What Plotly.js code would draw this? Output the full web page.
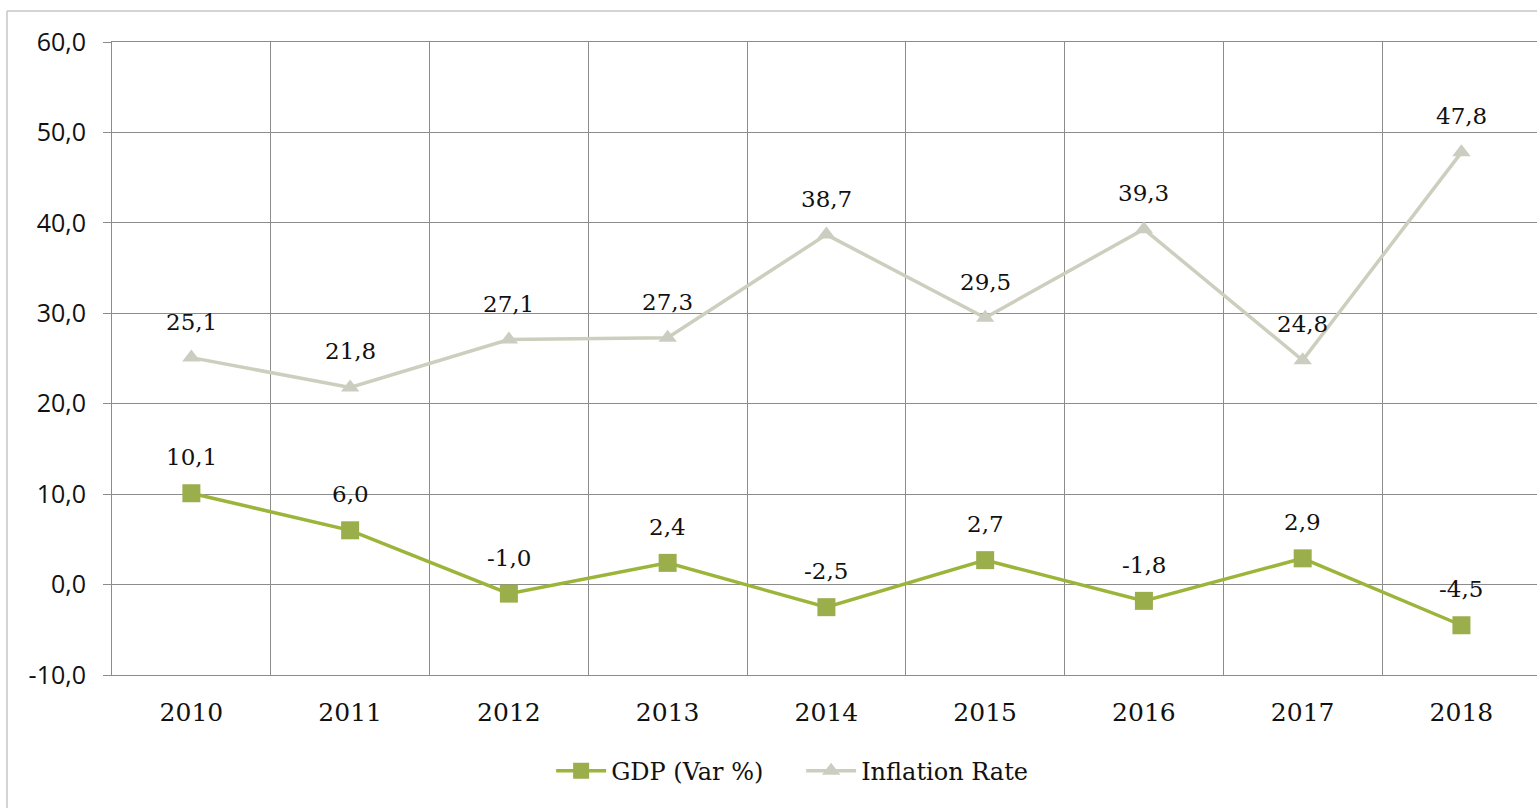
<!DOCTYPE html>
<html>
<head>
<meta charset="utf-8">
<script src="https://cdn.plot.ly/plotly-3.0.1.min.js"></script>
<style>html,body{margin:0;padding:0;background:#fff;}#chart{width:1537px;height:808px;}</style>
</head>
<body>
<div id="chart"></div>
<script>
var years = ['2010','2011','2012','2013','2014','2015','2016','2017','2018'];
var gdp = [10.1, 6.0, -1.0, 2.4, -2.5, 2.7, -1.8, 2.9, -4.5];
var inflation = [25.1, 21.8, 27.1, 27.3, 38.7, 29.5, 39.3, 24.8, 47.8];
var yTicks = [-10, 0, 10, 20, 30, 40, 50, 60];
var yTickText = ['-10,0', '0,0', '10,0', '20,0', '30,0', '40,0', '50,0', '60,0'];

var idx = years.map(function(_, i){ return i; });
var fmt = function(v){ return v.toFixed(1).replace('.', ','); };
var serif = 'DejaVu Serif, serif';
var gridCol = '#8c8c8c';

var traces = [
  {
    x: idx, y: gdp, name: 'GDP (Var %)', type: 'scatter', mode: 'lines+markers',
    line: {color: '#9bb53a', width: 3.5},
    marker: {symbol: 'square', size: 18, color: '#9aae4c'}
  },
  {
    x: idx, y: inflation, name: 'Inflation Rate', type: 'scatter', mode: 'lines+markers',
    line: {color: '#cccfbd', width: 3.5},
    marker: {symbol: 'triangle-up', size: 16, color: '#cbcdc0'}
  }
];

var annotations = [];
[gdp, inflation].forEach(function(series){
  series.forEach(function(v, i){
    annotations.push({
      x: i, y: v, xref: 'x', yref: 'y', text: fmt(v), showarrow: false,
      yshift: 36, font: {family: serif, size: 23, color: '#111'}
    });
  });
});

var minorVals = [];
for (var k = 0; k <= years.length; k++) minorVals.push(k - 0.5);

var layout = {
  width: 1537, height: 808,
  margin: {l: 112, r: 0, t: 42, b: 133},
  paper_bgcolor: '#fff', plot_bgcolor: '#fff',
  separators: ',.',
  showlegend: true,
  legend: {
    orientation: 'h', x: 0.4836, xanchor: 'center', y: -0.152, yanchor: 'middle',
    font: {family: serif, size: 24, color: '#111'}, itemwidth: 50,
    entrywidth: 185, entrywidthmode: 'pixels'
  },
  xaxis: {
    range: [-0.5, 8.476], tickvals: idx, ticktext: years,
    showgrid: false, zeroline: false,
    showline: true, mirror: true, linecolor: gridCol, linewidth: 1,
    ticks: '',
    tickfont: {family: serif, size: 25, color: '#111'},
    ticklabelstandoff: 15,
    minor: {tickvals: minorVals, showgrid: true, gridcolor: gridCol, gridwidth: 1, ticks: ''}
  },
  yaxis: {
    range: [-10, 60], tickvals: yTicks, ticktext: yTickText,
    showgrid: true, gridcolor: gridCol, gridwidth: 1,
    zeroline: false,
    showline: true, linecolor: gridCol, linewidth: 1,
    ticks: 'outside', ticklen: 8, tickcolor: gridCol,
    ticklabelstandoff: 12,
    tickfont: {family: 'Open Sans, sans-serif', size: 25, color: '#111'}
  },
  annotations: annotations,
  shapes: [
    {type: 'line', xref: 'paper', yref: 'paper', x0: -0.0737, x1: 1.01, y0: 1.049, y1: 1.049,
     line: {color: '#c6c6c6', width: 1.5}},
    {type: 'line', xref: 'paper', yref: 'paper', x0: -0.0737, x1: -0.0737, y0: 1.049, y1: -0.25,
     line: {color: '#c6c6c6', width: 1.5}}
  ]
};

Plotly.newPlot('chart', traces, layout, {displayModeBar: false, staticPlot: true});
</script>
</body>
</html>
